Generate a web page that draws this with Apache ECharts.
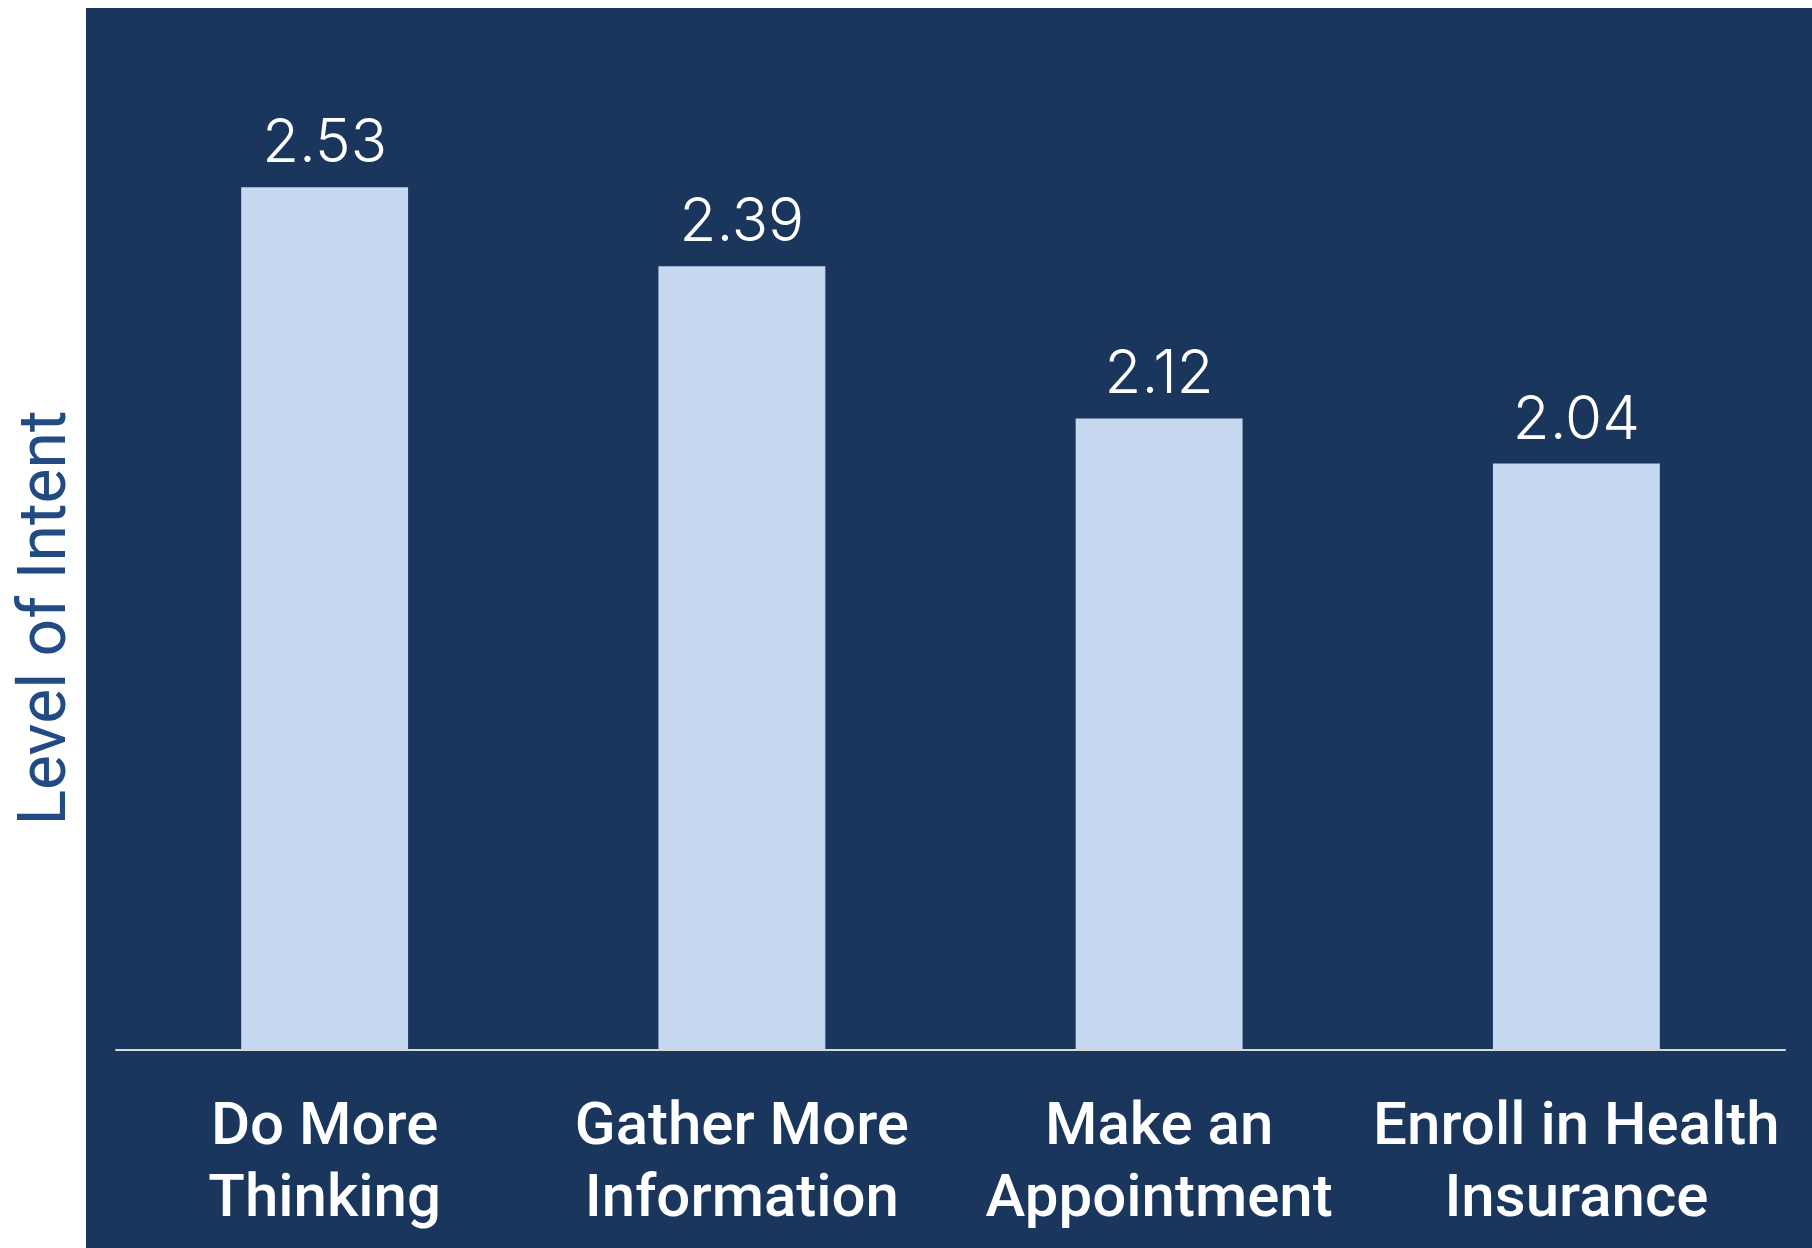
<!DOCTYPE html>
<html>
<head>
<meta charset="utf-8">
<script src="https://cdn.jsdelivr.net/npm/echarts@6/dist/echarts.min.js"></script>
<style>
  html, body { margin: 0; padding: 0; background: #ffffff; }
  #chart { width: 1812px; height: 1248px; }
</style>
</head>
<body>
<div id="chart"></div>
<script>
// data
const categories = [
    'Do More\nThinking',
    'Gather More\nInformation',
    'Make an\nAppointment',
    'Enroll in Health\nInsurance'
];
const intentValues = [2.53, 2.39, 2.12, 2.04];
const axisTitle = 'Level of Intent';

const chart = echarts.init(document.getElementById('chart'));

const option = {
    backgroundColor: '#FFFFFF',
    animation: false,
    graphic: [{
        type: 'rect',
        left: 86,
        top: 8,
        z: -10,
        silent: true,
        shape: { width: 1726, height: 1240 },
        style: { fill: '#1B365D' }
    }, {
        // y axis title, placed by hand (sits lower than the plot middle)
        type: 'text',
        x: 48,
        y: 618,
        rotation: Math.PI / 2,
        silent: true,
        style: {
            text: axisTitle,
            fill: '#224B84',
            font: '66px Roboto',
            textAlign: 'center',
            textVerticalAlign: 'middle'
        }
    }],
    grid: {
        left: 116,
        right: 27,
        top: 35,
        bottom: 198,
        outerBoundsMode: 'none'
    },
    xAxis: {
        type: 'category',
        data: categories,
        axisLine: {
            show: true,
            lineStyle: { color: '#D9D9D9', width: 2 }
        },
        axisTick: { show: false },
        axisLabel: {
            color: '#FFFFFF',
            fontFamily: 'Roboto',
            fontWeight: 500,
            fontSize: 60,
            lineHeight: 72,
            margin: 43,
            interval: 0
        }
    },
    yAxis: {
        type: 'value',
        min: 1,
        max: 2.8,
        axisLine: { show: false },
        axisTick: { show: false },
        axisLabel: { show: false },
        splitLine: { show: false }
    },
    series: [{
        type: 'bar',
        data: intentValues,
        barWidth: '40%',
        clip: true,
        itemStyle: { color: '#C6D9F0' },
        label: {
            show: true,
            position: 'top',
            distance: 13,
            color: '#FFFFFF',
            fontFamily: 'Inter',
            fontWeight: 300,
            fontSize: 60,
            formatter: p => p.value.toFixed(2)
        }
    }]
};

chart.setOption(option);
</script>
</body>
</html>
